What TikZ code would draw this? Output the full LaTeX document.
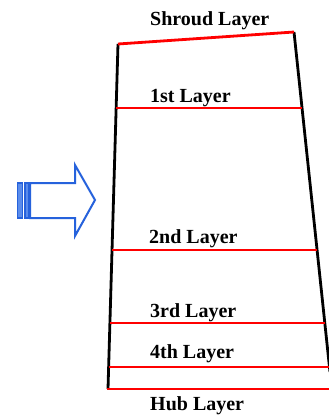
\documentclass[tikz,border=0pt]{standalone}
\usepackage{fontspec}
\setmainfont{Liberation Serif}
\begin{document}
\begin{tikzpicture}[x=1pt,y=-1pt,
  wall/.style={line width=2.8pt,black},
  layer/.style={line width=2.8pt,red},
  label/.style={inner sep=0pt,anchor=base west,font=\fontsize{20}{24}\selectfont\bfseries},
  flow/.style={line width=2pt,draw=arrowblue,line join=miter},
]
\definecolor{arrowblue}{RGB}{38,98,220}
\definecolor{barfill}{RGB}{90,140,235}
\clip (0,0) rectangle (329,416);
\fill[white] (0,0) rectangle (329,416);

% channel walls
\coordinate (LT) at (118,44);
\coordinate (LB) at (108,389);
\coordinate (RT) at (294,32);
\coordinate (RB) at (330,372);
\draw[wall] (LT) -- (LB);
\draw[wall] (RT) -- (RB);

% layer end points
\coordinate (s1) at (116.2,108); \coordinate (e1) at (302,108);
\coordinate (s2) at (112.1,250); \coordinate (e2) at (317,250);
\coordinate (s3) at (110,323);   \coordinate (e3) at (325,323);
\coordinate (s4) at (108.7,367); \coordinate (e4) at (331,367);
\coordinate (s5) at (107,389);   \coordinate (e5) at (331,389);

% shroud and spanwise layers
\draw[layer] (LT) -- (RT);
\draw[layer] (s1) -- (e1);
\draw[layer] (s2) -- (e2);
\draw[layer] (s3) -- (e3);
\draw[layer] (s4) -- (e4);
\draw[layer] (s5) -- (e5);

% labels
\node[label] (shroud) at (150,25) {Shroud Layer};
\node[label] (l1) at (150,102) {1st Layer};
\node[label] (l2) at (149,243) {2nd Layer};
\node[label] (l3) at (150,317) {3rd Layer};
\node[label] (l4) at (150,358) {4th Layer};
\node[label] (hub) at (150,410) {Hub Layer};

% inflow arrow
\draw[flow] (30,183) -- (75,183) -- (75,165) -- (95,200) -- (75,236) -- (75,218) -- (30,218) -- cycle;
\draw[flow,line width=1.2pt,fill=barfill] (17.5,183) rectangle (22.5,218);
\draw[flow,line width=1.2pt,fill=barfill] (25,183) rectangle (29,218);
\end{tikzpicture}
\end{document}
